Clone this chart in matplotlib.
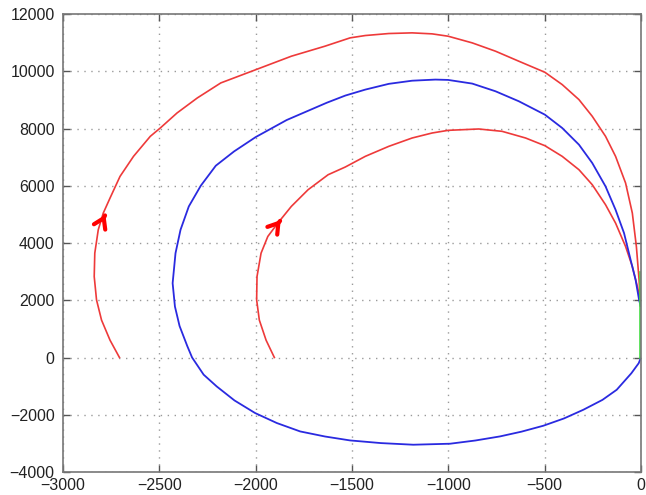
import matplotlib
matplotlib.use("Agg")
import matplotlib.pyplot as plt

plt.rcParams['font.family'] = ['Liberation Sans', 'DejaVu Sans']

# Outer red trajectory
outer_x = [-2707, -2756, -2800, -2826, -2838, -2835, -2817, -2791, -2756, -2704,
           -2634, -2547, -2495, -2408, -2303, -2181, -1998, -1815, -1641, -1510,
           -1431, -1309, -1188, -1084, -1001, -876, -755, -634, -499, -409,
           -322, -253, -184, -132, -80, -45, -24, -10, -4, -2]
outer_y = [0, 606, 1307, 2013, 2829, 3645, 4462, 5045, 5569, 6327,
           7027, 7726, 8018, 8543, 9067, 9592, 10058, 10525, 10874, 11166,
           11248, 11318, 11341, 11306, 11224, 10991, 10700, 10350, 9965, 9534,
           9009, 8426, 7726, 7027, 6094, 5045, 3878, 2712, 2013, 1800]

# Blue trajectory
blue_x = [0, -12, -50, -126, -200, -299, -400, -507, -620, -732,
          -860, -991, -1182, -1350, -1510, -1640, -1769, -1890, -2003, -2110,
          -2202, -2270, -2330, -2355, -2395, -2419, -2431, -2416, -2390, -2347,
          -2285, -2207, -2112, -2000, -1839, -1631, -1535, -1431, -1309, -1188,
          -1067, -1001, -876, -755, -634, -499, -409, -322, -253, -184,
          -132, -88, -54, -28, -10, -2]
blue_y = [0, -200, -550, -1127, -1480, -1825, -2130, -2384, -2590, -2757,
          -2900, -3012, -3047, -2990, -2897, -2760, -2583, -2290, -1940, -1500,
          -1012, -600, 0, 400, 1100, 1780, 2596, 3645, 4462, 5278,
          6000, 6700, 7200, 7700, 8296, 8900, 9150, 9359, 9560, 9670,
          9709, 9697, 9569, 9300, 8951, 8484, 8018, 7435, 6794, 5977,
          5161, 4345, 3412, 2712, 2013, 1800]

# Inner red trajectory
inner_x = [-1903, -1946, -1981, -1995, -1993, -1972, -1937, -1885, -1815, -1728,
           -1624, -1535, -1431, -1309, -1188, -1084, -1001, -842, -721, -599,
           -499, -409, -322, -253, -184, -132, -80, -45, -19, -4, -2]
inner_y = [0, 606, 1307, 2013, 2829, 3645, 4228, 4695, 5278, 5861,
           6385, 6654, 7027, 7377, 7668, 7843, 7936, 7983, 7901, 7668,
           7400, 7027, 6560, 6036, 5336, 4695, 3878, 3179, 2479, 2013, 1800]

# Green segment
green_x = [-4, -4]
green_y = [0, 3000]

# Arrow heads (tail point, head point)
arrow_tails = [(-2817, 4462), (-1937, 4228)]
arrow_heads = [(-2780, 4990), (-1870, 4800)]

xticks = [-3000, -2500, -2000, -1500, -1000, -500, 0]
yticks = [-4000, -2000, 0, 2000, 4000, 6000, 8000, 10000, 12000]

fig = plt.figure(figsize=(6.46, 4.95), dpi=100)
ax = fig.add_axes([63/646, 1-472/495, (641-63)/646, (472-14)/495])

red = '#ee3a3a'
blue = '#2a2ae0'
ax.plot(outer_x, outer_y, color=red, lw=1.2)
ax.plot(inner_x, inner_y, color=red, lw=1.2)
ax.plot(blue_x, blue_y, color=blue, lw=1.3)
ax.plot(green_x, green_y, color='#44dd44', lw=1.2)

for (tx, ty), (hx, hy) in zip(arrow_tails, arrow_heads):
    dx, dy = hx - tx, hy - ty
    sx, sy = hx - dx * 0.05, hy - dy * 0.05
    ax.annotate('', xy=(hx, hy), xytext=(sx, sy),
                arrowprops=dict(arrowstyle='->,head_length=0.7,head_width=0.45',
                                color='red', lw=3.0, shrinkA=0, shrinkB=0))

ax.set_xlim(-3000, 0)
ax.set_ylim(-4000, 12000)
ax.set_xticks(xticks)
ax.set_yticks(yticks)
ax.set_xticklabels([str(v).replace('-', '\u2212') for v in xticks])
ax.set_yticklabels([str(v).replace('-', '\u2212') for v in yticks])

ax.grid(True, color='#9a9a9a', linestyle=(0, (1, 4)), lw=1.0)
for s in ax.spines.values():
    s.set_color('#777777')
    s.set_linewidth(1.2)
ax.tick_params(direction='in', length=5, width=1, color='#555555',
               top=True, right=True, labelsize=11.5, labelcolor='#222222')
ax.tick_params(axis='y', pad=6)
ax.tick_params(axis='x', pad=4)

fig.savefig('out.png', dpi=100)
